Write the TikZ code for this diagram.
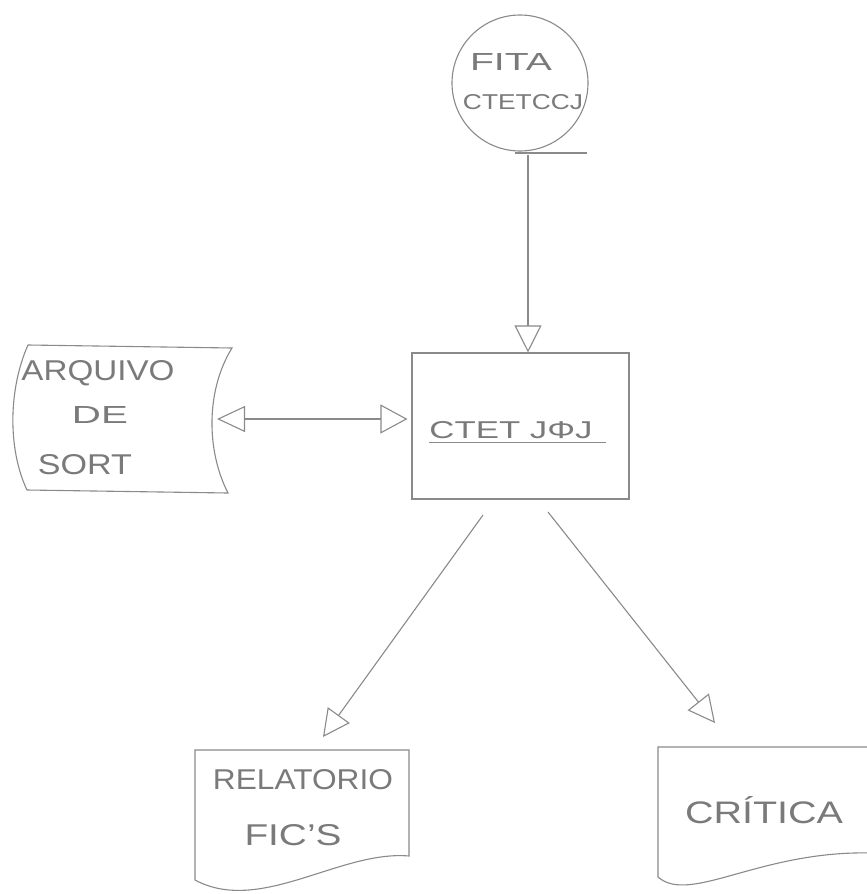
\documentclass[tikz,border=0pt]{standalone}
\usepackage{graphicx}
\usepackage{fontspec}
\setmainfont{Liberation Sans}
\usetikzlibrary{arrows.meta,calc}
\definecolor{pencil}{HTML}{8A8A8A}
\definecolor{penciltext}{HTML}{7A7A7A}
\newcommand\handtext[3]{\resizebox{#1}{#2}{#3}}
\begin{document}
\begin{tikzpicture}[x=1pt,y=1pt,
  line/.style={draw=pencil,line width=1.1pt},
  tip/.style={-{Triangle[open,length=27pt,width=27pt,line width=1.1pt]}},
  txt/.style={text=penciltext,inner sep=0pt,anchor=center}]
\useasboundingbox[fill=white] (0,0) rectangle (867,-894);
\clip (0,0) rectangle (867,-894);

% tape
\node[circle,line,minimum size=136pt,inner sep=0pt] (tape) at (520,-83) {};
\coordinate (tailL) at (515,-153);
\coordinate (tailR) at (587,-153);
\draw[line] (tailL) -- (tailR);
\coordinate (tapeout) at (528,-155);
\node[txt] (fita) at (511,-62) {\handtext{82pt}{17pt}{FITA}};
\node[txt] (tapename) at (523,-102) {\handtext{120pt}{15pt}{CTETCCJ}};

% process box
\node[rectangle,line,minimum width=217pt,minimum height=146pt,inner sep=0pt] (proc) at (520.5,-426) {};
\node[txt] (proctext) at (511,-430) {\handtext{163pt}{17pt}{CTET JΦJ}};
\draw[line] ($(proctext.south west)+(0,-4)$) -- ++(177,0);

% sort file (storage symbol)
\draw[line] (28,-345) -- (232,-348)
  .. controls (206,-390) and (206,-450) .. (228,-493)
  -- (27,-490)
  .. controls (8,-450) and (8,-390) .. (28,-345) -- cycle;
\coordinate (sortE) at (217,-419);
\node[txt] (arquivo) at (98,-373) {\handtext{153pt}{20pt}{ARQUIVO}};
\node[txt] (de) at (100,-415) {\handtext{56pt}{17pt}{DE}};
\node[txt] (sort) at (85,-465) {\handtext{94pt}{20pt}{SORT}};

% report document
\draw[line] (195,-750) -- (409,-750) -- (409,-856)
  .. controls (340,-850) and (260,-915) .. (195,-880) -- cycle;
\node[txt] (relatorio) at (303,-780) {\handtext{180pt}{20pt}{RELATORIO}};
\node[txt] (fics) at (293,-835) {\handtext{97pt}{21pt}{FIC'S}};
\coordinate (relin) at (323,-737);

% critica document
\draw[line] (872,-747) -- (658,-747) -- (658,-877)
  .. controls (690,-905) and (760,-850) .. (872,-853);
\node[txt] (critica) at (764,-810) {\handtext{158pt}{27pt}{CRÍTICA}};
\coordinate (criin) at (715,-723);

% connectors
\draw[line,tip] (tapeout) -- (tapeout |- proc.north);
\draw[line,{Triangle[open,length=28pt,width=26pt,line width=1.1pt]}-{Triangle[open,length=27pt,width=29pt,line width=1.1pt]}]
  (sortE) -- ($(proc.west |- sortE)+(-4,0)$);
\coordinate (outL) at (483,-515);
\coordinate (outR) at (548,-512);
\draw[line,tip] (outL) -- (relin);
\draw[line,tip] (outR) -- (criin);
\end{tikzpicture}
\end{document}
